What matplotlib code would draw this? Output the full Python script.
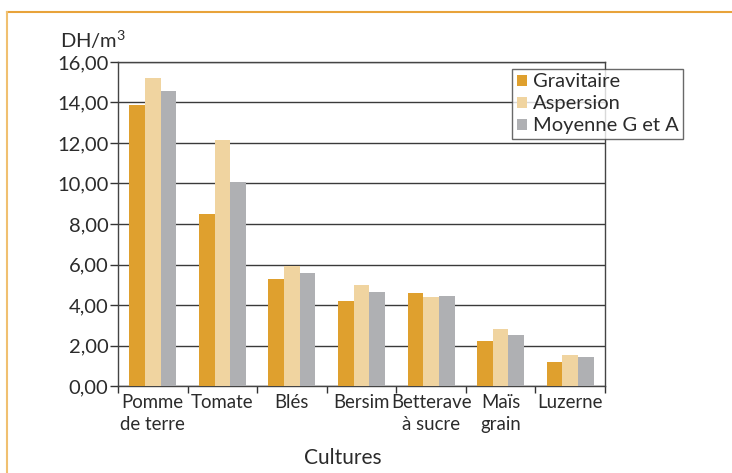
import matplotlib
matplotlib.use("Agg")
import matplotlib.pyplot as plt
from matplotlib.lines import Line2D
from matplotlib.patches import Patch
import numpy as np

plt.rcParams['font.family'] = ['Lato', 'DejaVu Sans']
plt.rcParams['mathtext.fontset'] = 'custom'
plt.rcParams['mathtext.rm'] = 'Lato'
plt.rcParams['mathtext.it'] = 'Lato:italic'
plt.rcParams['mathtext.bf'] = 'Lato:bold'

categories = ["Pomme\nde terre", "Tomate", "Blés", "Bersim", "Betterave\nà sucre", "Maïs\ngrain", "Luzerne"]
gravitaire = [13.88, 8.49, 5.28, 4.21, 4.59, 2.24, 1.19]
aspersion = [15.19, 12.15, 5.93, 4.99, 4.39, 2.81, 1.53]
moyenne = [14.55, 10.09, 5.58, 4.64, 4.46, 2.52, 1.42]
series_names = ["Gravitaire", "Aspersion", "Moyenne G et A"]
y_ticks = [0, 2, 4, 6, 8, 10, 12, 14, 16]
y_tick_labels = ["0,00", "2,00", "4,00", "6,00", "8,00", "10,00", "12,00", "14,00", "16,00"]

colors = ["#DFA02E", "#F0D4A0", "#AFB0B3"]
text_color = "#2b2b2b"

W, H = 732, 473
fig = plt.figure(figsize=(W / 100, H / 100), dpi=100)
ax = fig.add_axes([118 / W, 1 - 386 / H, (605 - 118) / W, (386 - 62) / H])

x = np.arange(len(categories))
bw = 0.225
for i, (vals, c, name) in enumerate(zip([gravitaire, aspersion, moyenne], colors, series_names)):
    ax.bar(x + (i - 1) * bw, vals, width=bw, color=c, label=name, zorder=3,
           edgecolor="none")

ax.set_xlim(-0.5, len(categories) - 0.5)
ax.set_ylim(0, 16)
ax.set_yticks(y_ticks)
ax.set_yticklabels(y_tick_labels, fontsize=14.5, color=text_color)
ax.yaxis.grid(True, color="#3a3a3a", linewidth=1.0, zorder=1)
ax.set_axisbelow(True)

ax.set_xticks(x)
ax.set_xticklabels(categories, fontsize=13.4, color=text_color, va="top", linespacing=1.3)
ax.tick_params(axis="x", length=0, pad=6)
ax.set_xticks(np.arange(-0.5, len(categories), 1.0), minor=True)
ax.tick_params(axis="x", which="minor", length=5, width=1, color="#333333", direction="out")
ax.tick_params(axis="y", length=6, width=1, color="#333333", direction="out", pad=0.8)

for s in ax.spines.values():
    s.set_color("#444444")
    s.set_linewidth(1.0)

fig.text(343 / W, 1 - 458 / H, "Cultures", fontsize=15, color=text_color, va="center", ha="center")

fig.text(60 / W, 1 - 48 / H, r"DH/m$^{\mathrm{3}}$", fontsize=14.5, color=text_color,
         va="baseline", ha="left")

handles = [Patch(facecolor=c, edgecolor="none") for c in colors]
leg = ax.legend(handles, series_names, loc="upper right", bbox_to_anchor=(683 / W, 1 - 69 / H),
                bbox_transform=fig.transFigure, fontsize=14.5, frameon=True, fancybox=False,
                handlelength=0.5, handleheight=0.5, handletextpad=0.3, borderpad=0.22,
                labelspacing=0.25, borderaxespad=0)
leg.get_frame().set_edgecolor("#444444")
leg.get_frame().set_linewidth(1.0)
for t in leg.get_texts():
    t.set_color(text_color)

# decorative frame lines
fig.add_artist(Line2D([7 / W, 1.0], [1 - 12.5 / H, 1 - 12.5 / H], transform=fig.transFigure,
                      color="#E8A33A", linewidth=1.5))
fig.add_artist(Line2D([7 / W, 7 / W], [0, 1 - 12.5 / H], transform=fig.transFigure,
                      color="#F0C070", linewidth=1.5))

fig.savefig("out.png", dpi=100)
